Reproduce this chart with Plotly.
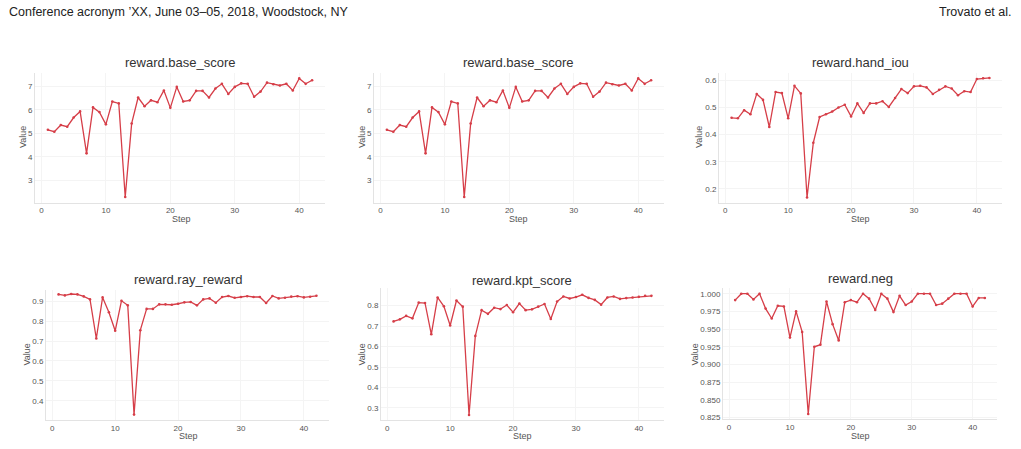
import plotly.graph_objects as go

steps = list(range(1, 43))

base_score = [5.15, 5.07, 5.35, 5.28, 5.67, 5.93, 4.15, 6.10, 5.90, 5.38,
              6.35, 6.27, 2.30, 5.42, 6.52, 6.15, 6.40, 6.32, 6.82, 6.08,
              6.97, 6.35, 6.40, 6.80, 6.80, 6.52, 6.90, 7.10, 6.67, 6.97,
              7.12, 7.10, 6.55, 6.77, 7.15, 7.08, 7.03, 7.10, 6.82, 7.33,
              7.10, 7.25]

hand_iou = [0.462, 0.460, 0.490, 0.475, 0.550, 0.528, 0.428, 0.557, 0.553, 0.460,
            0.580, 0.552, 0.168, 0.370, 0.465, 0.475, 0.485, 0.500, 0.510, 0.467,
            0.515, 0.480, 0.515, 0.515, 0.523, 0.502, 0.535, 0.568, 0.553, 0.578,
            0.580, 0.574, 0.550, 0.565, 0.578, 0.570, 0.545, 0.560, 0.557, 0.605,
            0.608, 0.609]

ray_reward = [0.935, 0.930, 0.937, 0.935, 0.925, 0.910, 0.713, 0.920, 0.845, 0.752,
              0.903, 0.880, 0.330, 0.755, 0.862, 0.862, 0.885, 0.885, 0.883, 0.888,
              0.895, 0.897, 0.880, 0.910, 0.915, 0.893, 0.922, 0.927, 0.918, 0.922,
              0.926, 0.922, 0.922, 0.892, 0.927, 0.915, 0.918, 0.924, 0.926, 0.920,
              0.923, 0.928]

kpt_score = [0.723, 0.733, 0.750, 0.738, 0.815, 0.813, 0.660, 0.840, 0.797, 0.703,
             0.825, 0.795, 0.265, 0.652, 0.778, 0.760, 0.790, 0.783, 0.803, 0.768,
             0.810, 0.778, 0.782, 0.795, 0.808, 0.735, 0.820, 0.845, 0.835, 0.842,
             0.853, 0.838, 0.828, 0.805, 0.840, 0.845, 0.833, 0.837, 0.840, 0.843,
             0.848, 0.848]

neg = [0.991, 1.000, 1.000, 0.992, 1.000, 0.979, 0.965, 0.983, 0.982, 0.938,
       0.975, 0.946, 0.830, 0.925, 0.928, 0.989, 0.957, 0.934, 0.988, 0.991,
       0.988, 1.000, 0.993, 0.977, 1.000, 0.993, 0.974, 0.997, 0.984, 0.989,
       1.000, 1.000, 1.000, 0.984, 0.986, 0.993, 1.000, 1.000, 1.000, 0.982,
       0.994, 0.994]

titles = ["reward.base_score", "reward.base_score", "reward.hand_iou",
          "reward.ray_reward", "reward.kpt_score", "reward.neg"]
series = [base_score, base_score, hand_iou, ray_reward, kpt_score, neg]

W, H = 1021, 449
# pixel boxes: left, right, top, bottom
boxes = [(35, 325, 73, 204), (374, 664, 73, 204), (719, 1002, 73, 204),
         (46, 329, 292, 423), (381, 664, 290, 423), (723, 997, 290, 422)]
yranges = [(2.06, 7.58), (2.06, 7.58), (0.149, 0.629),
           (0.302, 0.957), (0.240, 0.886), (0.8227, 1.008)]
ydtick = [1, 1, 0.1, 0.1, 0.1, 0.025]
yfmt = ["d", "d", ".1f", ".1f", ".1f", ".3f"]
title_pos = [(180, 63), (518, 63), (860, 63), (188, 281), (522, 282), (860, 280)]
value_pos = [(23, 138), (362, 138), (699, 138), (27, 357), (362, 357), (695, 357)]
step_pos = [(181, 220), (518, 220), (860, 220), (188, 439), (522, 439), (860, 439)]

line_color = "#d63e48"
fig = go.Figure()
layout = dict(
    width=W, height=H, margin=dict(l=0, r=0, t=0, b=0),
    paper_bgcolor="white", plot_bgcolor="white", showlegend=False,
    font=dict(family="Liberation Sans, Arial, sans-serif", color="#444"),
)
annotations = []
for i, (ttl, ys) in enumerate(zip(titles, series)):
    n = i + 1
    xa = "x" if n == 1 else f"x{n}"
    ya = "y" if n == 1 else f"y{n}"
    fig.add_trace(go.Scatter(
        x=steps, y=ys, mode="lines+markers", xaxis=xa, yaxis=ya,
        line=dict(color=line_color, width=1.3),
        marker=dict(color=line_color, size=2.6),
    ))
    l, r, t, b = boxes[i]
    layout["xaxis" if n == 1 else f"xaxis{n}"] = dict(
        domain=[l / W, r / W], range=[-1.0, 44.0], anchor=ya,
        tickmode="linear", tick0=0, dtick=10,
        showline=True, linecolor="#e3e3e3", linewidth=1,
        showgrid=True, gridcolor="#f4f4f4", zeroline=False,
        ticks="", tickfont=dict(size=8, color="#555"),
    )
    layout["yaxis" if n == 1 else f"yaxis{n}"] = dict(
        domain=[1 - b / H, 1 - t / H], range=list(yranges[i]), anchor=xa,
        tickmode="linear", tick0=0, dtick=ydtick[i], tickformat=yfmt[i],
        showline=True, linecolor="#e3e3e3", linewidth=1,
        showgrid=True, gridcolor="#f4f4f4", zeroline=False,
        ticks="", tickfont=dict(size=8, color="#555"),
    )
    tx, ty = title_pos[i]
    annotations.append(dict(text=ttl, x=tx / W, y=1 - ty / H, xref="paper", yref="paper",
                            showarrow=False, xanchor="center", yanchor="middle",
                            font=dict(size=13, color="#333")))
    vx, vy = value_pos[i]
    annotations.append(dict(text="Value", x=vx / W, y=1 - vy / H, xref="paper", yref="paper",
                            showarrow=False, xanchor="center", yanchor="middle", textangle=-90,
                            font=dict(size=9, color="#555")))
    sx, sy = step_pos[i]
    annotations.append(dict(text="Step", x=sx / W, y=1 - sy / H, xref="paper", yref="paper",
                            showarrow=False, xanchor="center", yanchor="middle",
                            font=dict(size=9, color="#555")))

header_font = dict(family="Liberation Sans Narrow, Liberation Sans, sans-serif",
                   size=12.5, color="#222")
annotations.append(dict(text="Conference acronym ’XX, June 03–05, 2018, Woodstock, NY",
                        x=7 / W, y=1 - 12 / H, xref="paper", yref="paper", showarrow=False,
                        xanchor="left", yanchor="middle", font=header_font))
annotations.append(dict(text="Trovato et al.",
                        x=1014 / W, y=1 - 12 / H, xref="paper", yref="paper", showarrow=False,
                        xanchor="right", yanchor="middle", font=header_font))
layout["annotations"] = annotations
fig.update_layout(**layout)
fig.write_html("out.html")
